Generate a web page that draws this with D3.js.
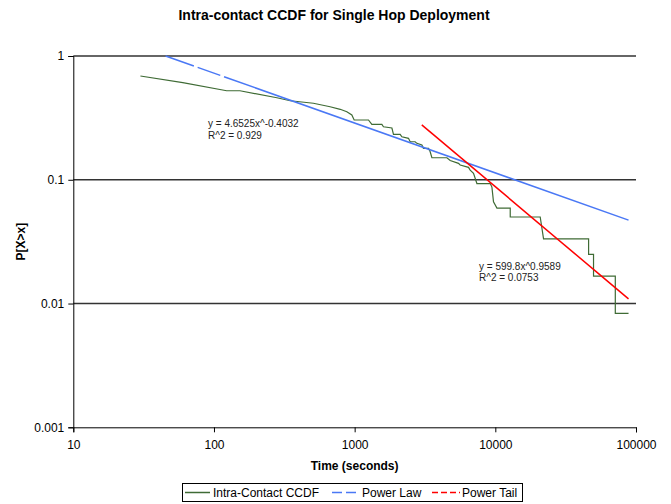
<!DOCTYPE html>
<html>
<head>
<meta charset="utf-8">
<script src="https://cdn.jsdelivr.net/npm/d3@7"></script>
<style>
  html, body { margin: 0; padding: 0; background: #fff; }
  svg { display: block; font-family: "Liberation Sans", Arial, Helvetica, sans-serif; }
</style>
</head>
<body>
<svg id="chart" width="671" height="504"></svg>
<script>
// ---- data ----
const ccdfX = [30, 60, 123, 153, 280, 348, 509, 669, 789, 880, 955, 992, 1254, 1325, 1561, 1603, 1840, 1888, 2107, 2166, 2414, 2481, 2692, 2770, 3006, 3084, 3350, 3443, 3540, 4527, 4777, 5472, 5625, 6447, 6627, 6998, 7397, 9199, 9458, 9705, 10266, 12764, 12764, 20850, 22020, 46030, 46030, 49900, 49900, 71260, 71260, 88500];
const ccdfY = [0.689, 0.61, 0.524, 0.524, 0.460, 0.435, 0.415, 0.389, 0.371, 0.355, 0.334, 0.304, 0.304, 0.280, 0.280, 0.268, 0.262, 0.233, 0.233, 0.2227, 0.2162, 0.2029, 0.2029, 0.197, 0.1908, 0.1794, 0.1794, 0.1684, 0.1506, 0.1506, 0.1429, 0.1357, 0.1315, 0.126, 0.1198, 0.1126, 0.0932, 0.0932, 0.0873, 0.0664, 0.0590, 0.0590, 0.0500, 0.0500, 0.0333, 0.0333, 0.0250, 0.0250, 0.01667, 0.01667, 0.00833, 0.00833];
const powerLawX = [45.3, 88500];
const powerLawY = [1.0, 0.0472];
const powerTailX = [3000, 88500];
const powerTailY = [0.278, 0.0109];
const xTicks = [10, 100, 1000, 10000, 100000];
const xTickLabels = ["10", "100", "1000", "10000", "100000"];
const yTicks = [1, 0.1, 0.01, 0.001];
const yTickLabels = ["1", "0.1", "0.01", "0.001"];
const gridValues = [1, 0.1, 0.01];
const legendLabels = ["Intra-Contact CCDF", "Power Law", "Power Tail"];
const powerLawEq = ["y = 4.6525x^-0.4032", "R^2 = 0.929"];
const powerTailEq = ["y = 599.8x^0.9589", "R^2 = 0.0753"];

// ---- layout ----
const svg = d3.select("#chart");
const L = 73.3, R = 636, T = 56, B = 427.3;
const x = d3.scaleLog().domain([10, 100000]).range([L, R]);
const y = d3.scaleLog().domain([0.001, 1]).range([B, T]);

// title
svg.append("text").attr("x", 334).attr("y", 20).attr("text-anchor", "middle")
  .attr("font-size", 14).attr("font-weight", "bold").text("Intra-contact CCDF for Single Hop Deployment");

// gridlines
svg.append("g").selectAll("line").data(gridValues).join("line")
  .attr("x1", L).attr("x2", R).attr("y1", d => y(d)).attr("y2", d => y(d))
  .attr("stroke", "#333").attr("stroke-width", 1.6);

// axes
const yAxis = svg.append("g").attr("transform", `translate(${L},0)`)
  .call(d3.axisLeft(y).tickValues(yTicks).tickFormat((d, i) => yTickLabels[i]).tickSizeOuter(0).tickSize(5).tickPadding(4));
const xAxis = svg.append("g").attr("transform", `translate(0,${B})`)
  .call(d3.axisBottom(x).tickValues(xTicks).tickFormat((d, i) => xTickLabels[i]).tickSizeOuter(0).tickSize(5).tickPadding(8));
[yAxis, xAxis].forEach(g => {
  g.selectAll("text").attr("font-size", 12).attr("fill", "#000").attr("font-family", null);
  g.selectAll("path, line").attr("stroke", "#000");
  g.attr("font-family", null);
});

// axis titles
svg.append("text").attr("x", R / 2 + L / 2).attr("y", 470).attr("text-anchor", "middle")
  .attr("font-size", 12).attr("font-weight", "bold").text("Time (seconds)");
svg.append("text").attr("transform", `translate(25,${(T + B) / 2}) rotate(-90)`).attr("text-anchor", "middle")
  .attr("font-size", 12).attr("font-weight", "bold").text("P[X>x]");

// series
const line = d3.line().x(d => x(d[0])).y(d => y(d[1]));
svg.append("path").datum(ccdfX.map((v, i) => [v, ccdfY[i]]))
  .attr("d", line).attr("fill", "none").attr("stroke", "#3f6b35").attr("stroke-width", 1.2);
svg.append("path").datum(powerLawX.map((v, i) => [v, powerLawY[i]]))
  .attr("d", line).attr("fill", "none").attr("stroke", "#4a78f5").attr("stroke-width", 1.5)
  .attr("stroke-dasharray", "30,4,24,4,2000");
svg.append("path").datum(powerTailX.map((v, i) => [v, powerTailY[i]]))
  .attr("d", line).attr("fill", "none").attr("stroke", "#ff0000").attr("stroke-width", 1.5);

// equations
const eq1 = svg.append("text").attr("font-size", 10).attr("fill", "#222");
powerLawEq.forEach((t, i) => eq1.append("tspan").attr("x", 208).attr("y", 127 + i * 11.5).text(t));
const eq2 = svg.append("text").attr("font-size", 10).attr("fill", "#222");
powerTailEq.forEach((t, i) => eq2.append("tspan").attr("x", 479).attr("y", 269.5 + i * 11.5).text(t));

// legend
const lg = svg.append("g");
lg.append("rect").attr("x", 182.5).attr("y", 483.5).attr("width", 340).attr("height", 18)
  .attr("fill", "#fff").attr("stroke", "#000").attr("stroke-width", 1);
const legStyles = [
  { color: "#3f6b35", dash: null, x0: 185, x1: 210, tx: 213 },
  { color: "#4a78f5", dash: "10,4", x0: 332, x1: 360, tx: 362 },
  { color: "#ff0000", dash: "6,3", x0: 432, x1: 460, tx: 462 }
];
legendLabels.forEach((lab, i) => {
  const s = legStyles[i];
  lg.append("line").attr("x1", s.x0).attr("x2", s.x1).attr("y1", 492.5).attr("y2", 492.5)
    .attr("stroke", s.color).attr("stroke-width", 1.5).attr("stroke-dasharray", s.dash);
  lg.append("text").attr("x", s.tx).attr("y", 497).attr("font-size", 12).text(lab);
});
</script>
</body>
</html>
